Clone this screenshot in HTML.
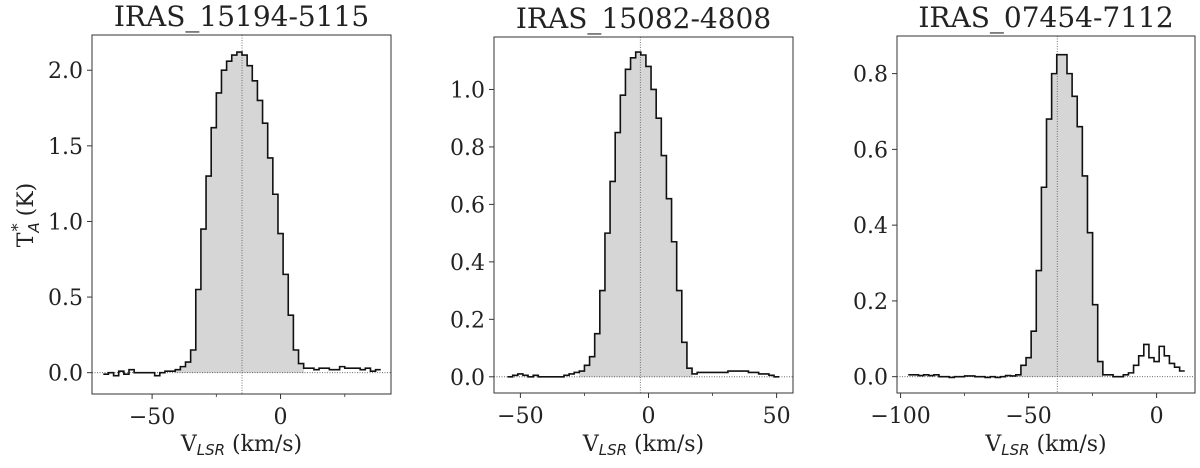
<!DOCTYPE html>
<html><head><meta charset="utf-8"><style>
body{margin:0;background:#fff;}
svg text{font-family:"DejaVu Serif","Liberation Serif",serif;fill:#222;}
</style></head><body>
<svg id="fig" width="1200" height="463" viewBox="0 0 1200 463" xmlns="http://www.w3.org/2000/svg"></svg>
<script>
// Panel 1: IRAS_15194-5115
const vel1 = [-68,-66,-64,-62,-60,-58,-56,-54,-52,-50,-48,-46,-44,-42,-40,-38,-36,-34,-32,-30,-28,-26,-24,-22,-20,-18,-16,-14,-12,-10,-8,-6,-4,-2,0,2,4,6,8,10,12,14,16,18,20,22,24,26,28,30,32,34,36,38];
const temp1 = [-0.01,0.0,-0.02,0.01,-0.01,0.02,0.0,0.0,0.0,0.0,-0.02,0.0,0.01,0.01,0.02,0.04,0.07,0.15,0.55,0.95,1.3,1.62,1.85,2.0,2.06,2.1,2.12,2.1,2.03,1.93,1.8,1.65,1.42,1.18,0.92,0.65,0.38,0.15,0.06,0.03,0.03,0.02,0.03,0.03,0.02,0.02,0.04,0.03,0.03,0.03,0.02,0.03,0.01,0.02];
const fill1 = [-41, 9];
const vmark1 = -15;
const xticks1 = [-50, 0];
const xminor1 = [-25, 25];
const yticks1 = [0.0, 0.5, 1.0, 1.5, 2.0];
const ylabels1 = ["0.0","0.5","1.0","1.5","2.0"];

// Panel 2: IRAS_15082-4808
const vel2 = [-54,-52,-50,-48,-46,-44,-42,-40,-38,-36,-34,-32,-30,-28,-26,-24,-22,-20,-18,-16,-14,-12,-10,-8,-6,-4,-2,0,2,4,6,8,10,12,14,16,18,20,22,24,26,28,30,32,34,36,38,40,42,44,46,48,50];
const temp2 = [0,0.005,0.01,0.005,0,0.005,0,0,0,0,0,0.005,0.01,0.015,0.02,0.04,0.07,0.15,0.3,0.5,0.68,0.85,0.98,1.07,1.11,1.13,1.12,1.08,1.0,0.9,0.77,0.62,0.47,0.3,0.12,0.03,0.01,0.015,0.015,0.015,0.015,0.015,0.015,0.02,0.02,0.02,0.02,0.015,0.015,0.01,0.01,0.005,0.0];
const fill2 = [-27, 17];
const vmark2 = -3.2;
const xticks2 = [-50, 0, 50];
const xminor2 = [-25, 25];
const yticks2 = [0.0, 0.2, 0.4, 0.6, 0.8, 1.0];
const ylabels2 = ["0.0","0.2","0.4","0.6","0.8","1.0"];

// Panel 3: IRAS_07454-7112
const vel3 = [-96,-94,-92,-90,-88,-86,-84,-82,-80,-78,-76,-74,-72,-70,-68,-66,-64,-62,-60,-58,-56,-54,-52,-50,-48,-46,-44,-42,-40,-38,-36,-34,-32,-30,-28,-26,-24,-22,-20,-18,-16,-14,-12,-10,-8,-6,-4,-2,0,2,4,6,8,10];
const temp3 = [0.005,0.005,0.003,0.005,0.003,0.005,0,0,-0.002,0,0,0.002,0.002,0,0,-0.002,0,-0.002,0,0.003,0.002,0.005,0.03,0.05,0.12,0.28,0.5,0.68,0.8,0.85,0.85,0.8,0.74,0.66,0.53,0.38,0.19,0.04,0.005,0.005,0.0,0.0,0.005,0.01,0.03,0.055,0.085,0.05,0.04,0.08,0.055,0.035,0.025,0.015];
const fill3 = [-55, -21];
const vmark3 = -38.8;
const xticks3 = [-100, -50, 0];
const xminor3 = [-75, -25];
const yticks3 = [0.0, 0.2, 0.4, 0.6, 0.8];
const ylabels3 = ["0.0","0.2","0.4","0.6","0.8"];

const titles = ["IRAS_15194-5115","IRAS_15082-4808","IRAS_07454-7112"];
const panels = [
 {box:[92,35,391,394], xl:[-73.4,43], yl:[-0.141,2.233], vel:vel1, t:temp1, fill:fill1, vm:vmark1, xt:xticks1, xm:xminor1, yt:yticks1, yls:ylabels1, title:titles[0], ylab:true},
 {box:[494,37,793,393], xl:[-60.3,56.4], yl:[-0.0564,1.1826], vel:vel2, t:temp2, fill:fill2, vm:vmark2, xt:xticks2, xm:xminor2, yt:yticks2, yls:ylabels2, title:titles[1]},
 {box:[897,36,1195,393], xl:[-101.4,15], yl:[-0.0431,0.8993], vel:vel3, t:temp3, fill:fill3, vm:vmark3, xt:xticks3, xm:xminor3, yt:yticks3, yls:ylabels3, title:titles[2]}
];
const NS='http://www.w3.org/2000/svg';
const svg=document.getElementById('fig');
function mk(tag,attrs,parent){const e=document.createElementNS(NS,tag);for(const k in attrs)e.setAttribute(k,attrs[k]);(parent||svg).appendChild(e);return e;}
panels.forEach((p,i)=>{
 const [x0,y0,x1,y1]=p.box;
 const sx=v=>x0+(v-p.xl[0])/(p.xl[1]-p.xl[0])*(x1-x0);
 const sy=v=>y1-(v-p.yl[0])/(p.yl[1]-p.yl[0])*(y1-y0);
 const g=mk('g',{});
 
 
 const n=p.vel.length;
 const half=(p.vel[1]-p.vel[0])/2;
 let d='';
 let fd='';
 for(let k=0;k<n;k++){
  const a=p.vel[k]-half,b=p.vel[k]+half,y=sy(p.t[k]);
  d+=(k===0?'M':'L')+sx(a).toFixed(2)+','+y.toFixed(2)+'L'+sx(b).toFixed(2)+','+y.toFixed(2);
  if(b>p.fill[0]&&a<p.fill[1]){
   const fa=Math.max(a,p.fill[0]),fb=Math.min(b,p.fill[1]);
   fd+='M'+sx(fa).toFixed(2)+','+sy(0).toFixed(2)+'L'+sx(fa).toFixed(2)+','+y.toFixed(2)+'L'+sx(fb).toFixed(2)+','+y.toFixed(2)+'L'+sx(fb).toFixed(2)+','+sy(0).toFixed(2)+'Z';
  }
 }
 const f=mk('path',{d:fd,fill:'#d6d6d6',stroke:'#d6d6d6','stroke-width':0.6},g);
 
 
 const h=mk('line',{x1:x0,x2:x1,y1:sy(0),y2:sy(0),stroke:'#555','stroke-width':0.8,'stroke-dasharray':'1,1.5'},g);
 
 
 const vl=mk('line',{x1:sx(p.vm),x2:sx(p.vm),y1:y0,y2:y1,stroke:'#555','stroke-width':0.8,'stroke-dasharray':'1,1.5'},g);
 
 
 const sp=mk('path',{d:d,fill:'none',stroke:'#111','stroke-width':1.6,'stroke-linejoin':'miter'},g);
 
 
 const r=mk('rect',{x:x0,y:y0,width:x1-x0,height:y1-y0,fill:'none',stroke:'#333','stroke-width':1},g);
 
 
 p.xt.forEach(v=>{
  const X=sx(v);
  const tl=mk('line',{x1:X,x2:X,y1:y1,y2:y1+5,stroke:'#333','stroke-width':1},g);
  
  
  const tx=mk('text',{x:X,y:y1+30,'text-anchor':'middle','font-size':22},g);
  tx.textContent=(v<0?'\u2212'+Math.abs(v):String(v));
  
  
 });
 p.xm.forEach(v=>{
  const X=sx(v);
  const tl=mk('line',{x1:X,x2:X,y1:y1,y2:y1+3,stroke:'#333','stroke-width':0.8},g);
  
  
 });
 p.yt.forEach((v,k)=>{
  const Y=sy(v);
  const tl=mk('line',{x1:x0-5,x2:x0,y1:Y,y2:Y,stroke:'#333','stroke-width':1},g);
  
  
  const tx=mk('text',{x:x0-9,y:Y+8,'text-anchor':'end','font-size':22},g);
  tx.textContent=p.yls[k];
  
  
 });
 const tt=mk('text',{x:(x0+x1)/2,y:y0-9,'text-anchor':'middle','font-size':28},g);
 tt.textContent=p.title;
 
 
 const xl=mk('text',{x:(x0+x1)/2,y:451,'text-anchor':'middle','font-size':22},g);
 xl.innerHTML='V<tspan font-size="15" font-style="italic" font-family="DejaVu Sans, sans-serif" dy="4">LSR</tspan><tspan dy="-4"> (km/s)</tspan>';
 
 
 if(p.ylab){
  const yl=mk('text',{x:0,y:0,'text-anchor':'middle','font-size':22,transform:'translate(33,215) rotate(-90)'},g);
  yl.innerHTML='T<tspan font-size="15" font-style="italic" font-family="DejaVu Sans, sans-serif" dy="6">A</tspan><tspan font-size="16" dx="-9" dy="-16">*</tspan><tspan dy="10"> (K)</tspan>';
  
  
 }
});
</script>
</body></html>
